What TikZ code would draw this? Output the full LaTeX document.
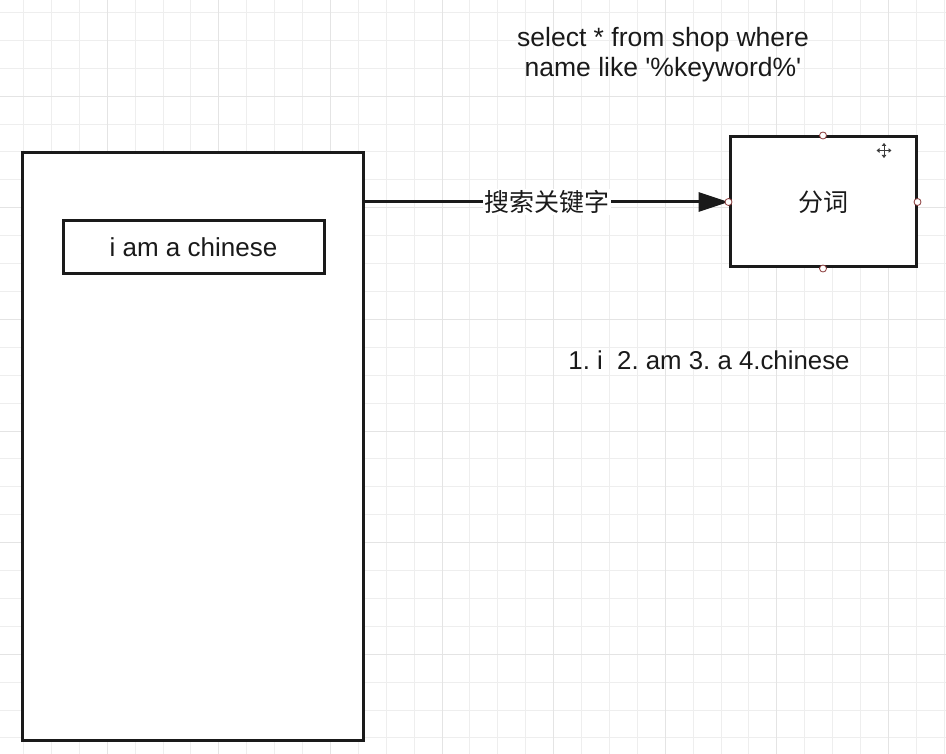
\documentclass[tikz,border=0pt]{standalone}
\usepackage{fontspec}
\setmainfont{Liberation Sans}[Ligatures=TeXOff]
\newfontfamily\cjk{Noto Sans CJK SC}
\usetikzlibrary{arrows.meta}
\frenchspacing
\definecolor{gridminor}{HTML}{EEEEEE}
\definecolor{gridmajor}{HTML}{E4E4E4}
\definecolor{ink}{HTML}{1A1A1A}
\definecolor{portc}{HTML}{8A3B3B}
\tikzset{
  box/.style={draw=ink, line width=3pt, fill=white, inner sep=0pt},
  label/.style={font=\fontsize{26}{30}\selectfont, text=ink, inner sep=0pt},
  cjklabel/.style={font=\cjk\fontsize{25}{28}\selectfont, text=ink},
  port/.style={circle, draw=portc, fill=white, line width=0.8pt, minimum size=7pt, inner sep=0pt},
  conn/.style={draw=ink, line width=3pt, -{Triangle[length=30pt,width=19pt]}}
}
\begin{document}
\begin{tikzpicture}[x=1pt,y=-1pt]
\useasboundingbox (0,0) rectangle (946,754);
\fill[white] (0,0) rectangle (946,754);
% grid
\foreach \k in {0,...,33} {
  \draw[gridminor, line width=1pt] ({23.5+27.9*\k},0) -- ({23.5+27.9*\k},754);
}
\foreach \k in {0,...,26} {
  \draw[gridminor, line width=1pt] (0,{12.5+27.9*\k}) -- (946,{12.5+27.9*\k});
}
\foreach \k in {3,7,11,15,19,23,27,31} {
  \draw[gridmajor, line width=1pt] ({23.5+27.9*\k},0) -- ({23.5+27.9*\k},754);
}
\foreach \k in {3,7,11,15,19,23} {
  \draw[gridmajor, line width=1pt] (0,{12.5+27.9*\k}) -- (946,{12.5+27.9*\k});
}
% left big box
\node[box, minimum width=341pt, minimum height=587pt] (phone) at (192.5,446.5) {};
\node[box, minimum width=261pt, minimum height=53pt, label] (input) at (193.5,247.5) {i am a chinese};
% right box
\node[box, minimum width=186pt, minimum height=130pt] (seg) at (823,202) {};
\node[cjklabel] (segt) at (823,202) {分词};
% connector
\draw[conn] (phone.east |- seg.west) -- (seg.west)
  node[midway, fill=white, inner sep=1.5pt, cjklabel] (kw) {搜索关键字};
% ports
\node[port] (p1) at (seg.north) {};
\node[port] (p2) at (seg.south) {};
\node[port] (p3) at (seg.west) {};
\node[port] (p4) at (seg.east) {};
% move cursor
\draw[ink!85, line width=1pt, {Triangle[length=3pt,width=4.5pt]}-{Triangle[length=3pt,width=4.5pt]}] (876.5,150.5) -- (891.5,150.5);
\draw[ink!85, line width=1pt, {Triangle[length=3pt,width=4.5pt]}-{Triangle[length=3pt,width=4.5pt]}] (884,143) -- (884,158);
% texts
\node[label, align=center, font=\fontsize{26.5}{30}\selectfont] (sql) at (663,55) {select * from shop where\\name like '\%keyword\%'};
\node[label, font=\fontsize{25.8}{30}\selectfont] (tokens) at (709,360) {1. i\ \ 2. am 3. a 4.chinese};
\end{tikzpicture}
\end{document}
